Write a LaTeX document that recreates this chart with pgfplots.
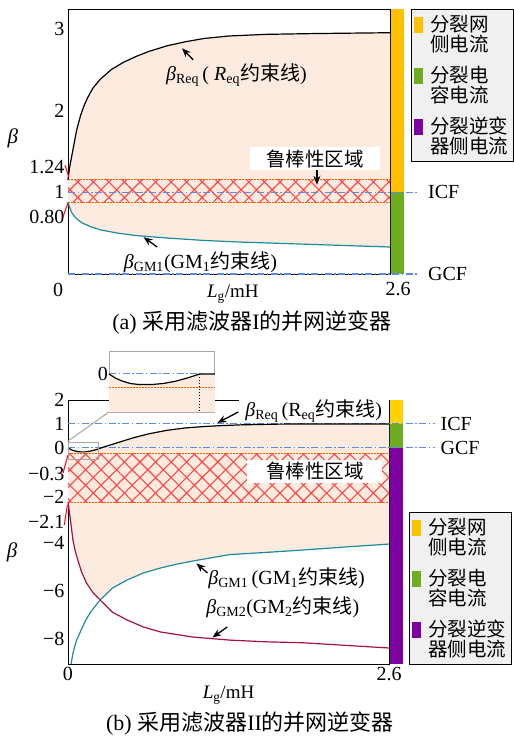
\documentclass[border=0pt]{standalone}
\usepackage{pgfplots}
\pgfplotsset{compat=1.18}
\usepackage{fontspec}
\setmainfont{Liberation Serif}
\newfontfamily\cjk{Noto Sans CJK SC}
\usetikzlibrary{arrows.meta,patterns.meta}
\newcommand\fs[1]{\fontsize{#1bp}{#1bp}\selectfont}
\definecolor{peach}{HTML}{FDEBDF}
\definecolor{cyel}{HTML}{FFC000}
\definecolor{cyelb}{HTML}{FFD200}
\definecolor{cgrn}{HTML}{6EAD1F}
\definecolor{cpur}{HTML}{7D00A0}
\definecolor{cteal}{HTML}{1A8C9C}
\definecolor{ccrim}{HTML}{A5123F}
\definecolor{cblue}{HTML}{5B8BE8}
\definecolor{corg}{HTML}{FF5A00}
\definecolor{chatch}{HTML}{FF4545}
\definecolor{legbg}{HTML}{F0F0F0}

\pgfplotstableread{
x y
0 1.15
0.01 1.27
0.02 1.36
0.03 1.44
0.05 1.60
0.07 1.76
0.10 1.93
0.13 2.06
0.16 2.16
0.20 2.27
0.26 2.38
0.35 2.50
0.45 2.59
0.55 2.66
0.65 2.72
0.80 2.79
0.95 2.84
1.10 2.88
1.30 2.91
1.60 2.93
2.00 2.94
2.60 2.95
}\reqA
\pgfplotstableread{
x y
0 0.88
0.01 0.83
0.02 0.79
0.03 0.75
0.06 0.69
0.09 0.65
0.12 0.62
0.18 0.58
0.26 0.54
0.40 0.50
0.55 0.47
0.80 0.44
1.10 0.41
1.40 0.39
1.80 0.37
2.20 0.35
2.60 0.33
}\gmA
\pgfplotstableread{
x y
0 0
0.02 -0.06
0.04 -0.11
0.07 -0.15
0.10 -0.17
0.14 -0.17
0.18 -0.14
0.22 -0.09
0.26 -0.02
0.30 0.05
0.40 0.21
0.53 0.42
0.65 0.58
0.80 0.73
0.95 0.83
1.10 0.89
1.25 0.93
1.40 0.96
1.70 0.99
2.00 1.00
2.60 1.00
}\reqB
\pgfplotstableread{
x y
0.025 -9.05
0.04 -8.60
0.055 -8.30
0.07 -8.05
0.10 -7.70
0.14 -7.25
0.18 -6.90
0.26 -6.37
0.36 -5.87
0.48 -5.53
0.61 -5.24
0.75 -5.03
0.88 -4.87
1.01 -4.74
1.31 -4.47
1.60 -4.38
1.90 -4.28
2.25 -4.15
2.60 -4.03
}\gmoB
\pgfplotstableread{
x y
0 -2.27
0.005 -2.45
0.01 -2.65
0.02 -3.03
0.03 -3.45
0.04 -3.86
0.06 -4.35
0.08 -4.70
0.11 -5.20
0.15 -5.66
0.20 -6.05
0.26 -6.37
0.36 -6.88
0.48 -7.21
0.61 -7.50
0.75 -7.71
1.01 -7.92
1.31 -8.05
1.60 -8.12
1.90 -8.16
2.25 -8.27
2.60 -8.38
}\gmtB
\pgfplotstableread{
x y
0 0
0.02 -0.07
0.04 -0.12
0.07 -0.17
0.10 -0.19
0.14 -0.19
0.18 -0.17
0.22 -0.13
0.26 -0.07
0.30 0
0.35 0
}\insB

\tikzset{
  icf/.style={cblue, line width=1.1bp, dash pattern=on 7bp off 2.5bp on 1.5bp off 2.5bp},
  bandl/.style={corg, line width=1bp, dash pattern=on 1.5bp off 1.5bp},
  arr/.style={-{Stealth[length=9bp,width=7bp]}, line width=1.3bp},
  hatchA/.style={draw=none, pattern={Lines[angle=45,distance=11bp,line width=1.1bp]}, pattern color=chatch},
  hatchB/.style={draw=none, pattern={Lines[angle=-45,distance=11bp,line width=1.1bp]}, pattern color=chatch},
  lab/.style={font=\fs{20}},
}
\pgfplotsset{
  base/.style={scale only axis, clip=false, xmin=0, xmax=2.6,
    axis line style={line width=1bp}, tick style={draw=none},
    ticklabel style={font=\fs{20}},
    xlabel={\textit{L}\textsubscript{g}/mH},
    ylabel={\textit{β}},
  },
}

\begin{document}
\begin{tikzpicture}
\useasboundingbox (0,0) rectangle (514bp,-742bp);

% ---------------- panel (a) ----------------
\begin{axis}[base, at={(68bp,-274bp)}, anchor=south west, width=322bp, height=265bp,
  ymin=0, ymax=3.24,
  xtick=\empty,
  ytick={0.70,1,1.31,2,3}, yticklabels={0.80,1,1.24,2,3},
  xlabel style={at={(axis description cs:0.512,-0.075)}, anchor=center, font=\fs{19}},
  ylabel style={at={(axis description cs:-0.171,0.513)}, rotate=-90, anchor=center, font=\fs{21}},
  legend style={at={(axis description cs:1.065,1)}, anchor=north west, fill=legbg, draw=black,
    line width=0.8bp, inner xsep=3bp, inner ysep=4bp, row sep=9bp,
    font=\fontsize{19.5bp}{20bp}\selectfont\cjk,
    cells={anchor=west, align=left, inner sep=1bp},
    /tikz/every odd column/.append style={column sep=5bp}},
  legend image code/.code={\fill[#1] (0bp,1bp) rectangle (9bp,17bp);},
]
\addlegendimage{fill=cyel, draw=none}
\addlegendentry{分裂网\\侧电流}
\addlegendimage{fill=cgrn, draw=none}
\addlegendentry{分裂电\\容电流}
\addlegendimage{fill=cpur, draw=none}
\addlegendentry{分裂逆变\\器侧电流}

\addplot[fill=peach, draw=none] coordinates {
(0,1.15)(0.01,1.27)(0.02,1.36)(0.03,1.44)(0.05,1.60)(0.07,1.76)(0.10,1.93)(0.13,2.06)(0.16,2.16)(0.20,2.27)(0.26,2.38)(0.35,2.50)(0.45,2.59)(0.55,2.66)(0.65,2.72)(0.80,2.79)(0.95,2.84)(1.10,2.88)(1.30,2.91)(1.60,2.93)(2.00,2.94)(2.60,2.95)
(2.60,0.33)(2.20,0.35)(1.80,0.37)(1.40,0.39)(1.10,0.41)(0.80,0.44)(0.55,0.47)(0.40,0.50)(0.26,0.54)(0.18,0.58)(0.12,0.62)(0.09,0.65)(0.06,0.69)(0.03,0.75)(0.02,0.79)(0.01,0.83)(0,0.88)} -- cycle;
\addplot[hatchA] coordinates {(0,0.88)(2.6,0.88)(2.6,1.15)(0,1.15)} -- cycle;
\addplot[hatchB] coordinates {(0,0.88)(2.6,0.88)(2.6,1.15)(0,1.15)} -- cycle;
\addplot[bandl] coordinates {(0,0.88)(2.6,0.88)};
\addplot[bandl] coordinates {(0,1.15)(2.6,1.15)};
% colour bar
\addplot[fill=cyel, draw=none] coordinates {(2.605,1)(2.715,1)(2.715,3.24)(2.605,3.24)} -- cycle;
\addplot[fill=cgrn, draw=none] coordinates {(2.605,0)(2.715,0)(2.715,1)(2.605,1)} -- cycle;
\addplot[icf] coordinates {(0,1)(2.83,1)};
\addplot[icf] coordinates {(0,0)(2.83,0)};
\addplot[black, line width=1.2bp] table {\reqA};
\addplot[cteal, line width=1.2bp] table {\gmA};

\node[lab, anchor=west] at (axis cs:2.88,1) {ICF};
\node[lab, anchor=west] at (axis cs:2.88,0) {GCF};
\node[lab] at (axis cs:-0.08,-0.195) {0};
\node[lab] at (axis cs:2.665,-0.18) {2.6};
\draw[red, line width=1bp] (axis cs:-0.024,1.33) -- (axis cs:0.006,1.19);
\draw[red, line width=1bp] (axis cs:-0.04,0.70) -- (axis cs:0,0.87);

\node[fill=white, minimum width=130bp, minimum height=23bp, inner sep=0, font=\fs{19.5}\cjk] at (axis cs:1.995,1.41) {鲁棒性区域};
\draw[arr] (axis cs:2.01,1.27) -- (axis cs:2.01,1.09);
\node[lab] at (axis cs:1.36,2.43) {\textit{β}\textsubscript{Req}\,( \textit{R}\textsubscript{eq}{\cjk 约束线})};
\draw[arr] (axis cs:1.01,2.62) -- (axis cs:0.92,2.76);
\node[lab] at (axis cs:1.07,0.15) {\textit{β}\textsubscript{GM1}(GM\textsubscript{1}{\cjk 约束线})};
\draw[arr] (axis cs:0.72,0.33) -- (axis cs:0.61,0.45);
\end{axis}

% ---------------- panel (b) ----------------
\begin{axis}[base, at={(68bp,-664bp)}, anchor=south west, width=321bp, height=264bp,
  ymin=-9.05, ymax=2,
  xtick={0,2.6}, xticklabels={0,2.6},
  ytick={-8,-6,-4,-3.12,-2.05,-1.08,0,1,2}, yticklabels={−8,−6,−4,−2.1,−2,−0.3,0,1,2},
  xlabel style={at={(axis description cs:0.5,-0.117)}, anchor=center, font=\fs{19}},
  ylabel style={at={(axis description cs:-0.174,0.424)}, rotate=-90, anchor=center, font=\fs{21}},
  legend style={at={(axis description cs:1.062,0.576)}, anchor=north west, fill=legbg, draw=black,
    line width=0.8bp, inner xsep=3bp, inner ysep=4bp, row sep=9bp,
    font=\fontsize{19.5bp}{20bp}\selectfont\cjk,
    cells={anchor=west, align=left, inner sep=1bp},
    /tikz/every odd column/.append style={column sep=5bp}},
  legend image code/.code={\fill[#1] (0bp,1bp) rectangle (9bp,17bp);},
]
\addlegendimage{fill=cyel, draw=none}
\addlegendentry{分裂网\\侧电流}
\addlegendimage{fill=cgrn, draw=none}
\addlegendentry{分裂电\\容电流}
\addlegendimage{fill=cpur, draw=none}
\addlegendentry{分裂逆变\\器侧电流}

\addplot[fill=peach, draw=none] coordinates {
(0,0)(0.02,-0.06)(0.04,-0.11)(0.07,-0.15)(0.10,-0.17)(0.14,-0.17)(0.18,-0.14)(0.22,-0.09)(0.26,-0.02)(0.30,0.05)(0.40,0.21)(0.53,0.42)(0.65,0.58)(0.80,0.73)(0.95,0.83)(1.10,0.89)(1.25,0.93)(1.40,0.96)(1.70,0.99)(2.00,1.00)(2.60,1.00)
(2.60,-4.03)(2.25,-4.15)(1.90,-4.28)(1.60,-4.38)(1.31,-4.47)(1.01,-4.74)(0.88,-4.87)(0.75,-5.03)(0.61,-5.24)(0.48,-5.53)(0.36,-5.87)(0.26,-6.37)
(0.20,-6.05)(0.15,-5.66)(0.11,-5.20)(0.08,-4.70)(0.06,-4.35)(0.04,-3.86)(0.03,-3.45)(0.02,-3.03)(0.01,-2.65)(0.005,-2.45)(0,-2.27)} -- cycle;
\addplot[hatchA] coordinates {(0,-2.27)(2.6,-2.27)(2.6,-0.23)(0,-0.23)} -- cycle;
\addplot[hatchB] coordinates {(0,-2.27)(2.6,-2.27)(2.6,-0.23)(0,-0.23)} -- cycle;
\addplot[bandl] coordinates {(0,-2.27)(2.6,-2.27)};
\addplot[bandl] coordinates {(0,-0.23)(2.6,-0.23)};
% colour bar
\addplot[fill=cyelb, draw=none] coordinates {(2.605,1)(2.715,1)(2.715,2)(2.605,2)} -- cycle;
\addplot[fill=cgrn, draw=none] coordinates {(2.605,0)(2.715,0)(2.715,1)(2.605,1)} -- cycle;
\addplot[fill=cpur, draw=none] coordinates {(2.605,-9.05)(2.715,-9.05)(2.715,0)(2.605,0)} -- cycle;
\addplot[icf] coordinates {(0,1)(2.97,1)};
\addplot[icf] coordinates {(0,0)(2.97,0)};
\addplot[black, line width=1.2bp] table {\reqB};
\addplot[cteal, line width=1.2bp] table {\gmoB};
\addplot[ccrim, line width=1.2bp] table {\gmtB};

\node[lab, anchor=west] at (axis cs:2.99,1) {ICF};
\node[lab, anchor=west] at (axis cs:2.99,0) {GCF};
\draw[red, line width=1bp] (axis cs:-0.04,-1.05) -- (axis cs:0,-0.30);
\draw[red, line width=1bp] (axis cs:-0.03,-3.23) -- (axis cs:-0.005,-2.40);

\node[fill=white, minimum width=150bp, minimum height=22bp, inner sep=0, lab] at (axis cs:1.99,1.52) {\textit{β}\textsubscript{Req}\,(R\textsubscript{eq}{\cjk 约束线})};
\draw[arr] (axis cs:1.38,1.50) -- (axis cs:1.21,1.04);
\node[fill=white, minimum width=135bp, minimum height=23bp, inner sep=0, font=\fs{19.5}\cjk] at (axis cs:2.0,-0.99) {鲁棒性区域};
\node[lab] at (axis cs:1.77,-5.45) {\textit{β}\textsubscript{GM1}\,(GM\textsubscript{1}{\cjk 约束线})};
\draw[arr] (axis cs:1.13,-5.24) -- (axis cs:1.04,-4.84);
\node[lab] at (axis cs:1.74,-6.67) {\textit{β}\textsubscript{GM2}(GM\textsubscript{2}{\cjk 约束线})};
\draw[arr] (axis cs:1.29,-7.5) -- (axis cs:1.17,-7.94);
% zoom marker
\draw[gray!70, line width=1bp] (axis cs:0,0.24) rectangle (axis cs:0.243,-0.51);
\draw[gray!70, line width=1bp] (axis cs:0,0.28) -- (axis cs:0.332,1.50);
\end{axis}

% ---------------- inset ----------------
\begin{axis}[scale only axis, clip=false, at={(109bp,-412bp)}, anchor=south west, width=106bp, height=61bp,
  xmin=0, xmax=0.35, ymin=-0.68, ymax=0.41,
  axis line style={draw=gray!70, line width=1bp}, tick style={draw=none},
  xtick=\empty, ytick={0}, yticklabels={0},
  yticklabel style={font=\fs{20}, inner sep=1bp},
  axis background/.style={fill=white}]
\addplot[fill=peach, draw=none] coordinates {(0,0)(0.02,-0.07)(0.04,-0.12)(0.07,-0.17)(0.10,-0.19)(0.14,-0.19)(0.18,-0.17)(0.22,-0.13)(0.26,-0.07)(0.30,0)(0.35,0)(0.35,-0.68)(0,-0.68)} -- cycle;
\addplot[bandl] coordinates {(0,-0.25)(0.35,-0.25)};
\addplot[icf] coordinates {(0,0)(0.30,0)};
\addplot[black, line width=1.2bp] table {\insB};
\addplot[black, line width=1bp, dash pattern=on 1.5bp off 1.5bp] coordinates {(0.30,0)(0.30,-0.68)};
\end{axis}

\node[font=\fs{22}] at (252bp,-322bp) {(a) {\cjk 采用滤波器}I{\cjk 的并网逆变器}};
\node[font=\fs{22}] at (250bp,-723bp) {(b) {\cjk 采用滤波器}II{\cjk 的并网逆变器}};
\end{tikzpicture}
\end{document}
